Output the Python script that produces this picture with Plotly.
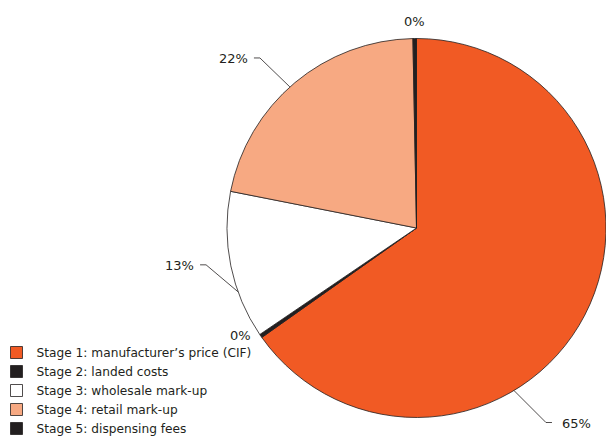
import math
import plotly.graph_objects as go

# ---- data ----
stages = [
    "Stage 1: manufacturer’s price (CIF)",
    "Stage 2: landed costs",
    "Stage 3: wholesale mark-up",
    "Stage 4: retail mark-up",
    "Stage 5: dispensing fees",
]
values = [65.2, 0.3, 12.6, 21.6, 0.3]
colors = ["#F15A24", "#231F20", "#FFFFFF", "#F7A982", "#231F20"]

# ---- layout config ----
W, H = 606, 436
CX, CY, R = 416.5, 228.0, 189.5           # pie centre / radius in pixels
label_frac = [0.635, 0.5, 0.32, 0.475, 0.5]  # where in each slice the label anchors
leader = [(32, 32), None, (-32, -27), (-30, -29), None]  # elbow offsets (px)
plain_offset = [None, (-8, 0), None, None, (0, -8)]     # label offsets w/o leader
FONT = "DejaVu Sans, Liberation Sans, Arial, sans-serif"

def to_paper(px, py):
    return px / W, 1 - py / H

fig = go.Figure(go.Pie(
    labels=stages,
    values=values,
    sort=False,
    direction="clockwise",
    rotation=0,
    marker=dict(colors=colors, line=dict(color="#231F20", width=0.8)),
    textinfo="none",
    hoverinfo="label+percent",
    domain=dict(x=[(CX - R) / W, min(1.0, (CX + R) / W)],
                y=[1 - (CY + R) / H, 1 - (CY - R) / H]),
))

total = sum(values)
cum = 0.0
shapes, annotations = [], []
for i, v in enumerate(values):
    start = 360 * cum / total
    size = 360 * v / total
    cum += v
    th = math.radians(start + label_frac[i] * size)
    px = CX + R * math.sin(th)
    py = CY - R * math.cos(th)
    pct = f"{round(100 * v / total):.0f}%"
    if leader[i] is not None:
        dx, dy = leader[i]
        ex, ey = px + dx, py + dy
        sx = 1 if dx > 0 else -1
        fx, fy = ex + sx * 6, ey
        p0, p1, p2 = to_paper(px, py), to_paper(ex, ey), to_paper(fx, fy)
        shapes.append(dict(
            type="path", xref="paper", yref="paper",
            path=f"M {p0[0]},{p0[1]} L {p1[0]},{p1[1]} L {p2[0]},{p2[1]}",
            line=dict(color="#231F20", width=0.8)))
        tx, ty = to_paper(fx + sx * (8 if sx > 0 else 4), fy + 1)
        annotations.append(dict(
            x=tx, y=ty, xref="paper", yref="paper", text=pct, showarrow=False,
            xanchor="left" if sx > 0 else "right", yanchor="middle",
            font=dict(size=13, color="#231F20", family=FONT)))
    else:
        ox, oy = plain_offset[i]
        tx, ty = to_paper(px + ox, py + oy)
        annotations.append(dict(
            x=tx, y=ty, xref="paper", yref="paper", text=pct, showarrow=False,
            xanchor="right" if ox < 0 else "center",
            yanchor="bottom" if ox == 0 else "middle",
            font=dict(size=13, color="#231F20", family=FONT)))

fig.update_layout(
    width=W, height=H,
    margin=dict(l=0, r=0, t=0, b=0, autoexpand=False),
    paper_bgcolor="white",
    plot_bgcolor="white",
    font=dict(family=FONT, color="#231F20"),
    shapes=shapes,
    annotations=annotations,
    showlegend=True,
    legend=dict(x=-3.5 / W, y=-7 / H, xanchor="left", yanchor="bottom",
                font=dict(size=12.2, color="#231F20", family=FONT),
                bgcolor="rgba(0,0,0,0)", traceorder="normal"),
)

fig.write_html(
    "out.html",
    config={"displayModeBar": False},
    post_script="document.body.style.margin='0';document.body.style.overflow='hidden';",
)
